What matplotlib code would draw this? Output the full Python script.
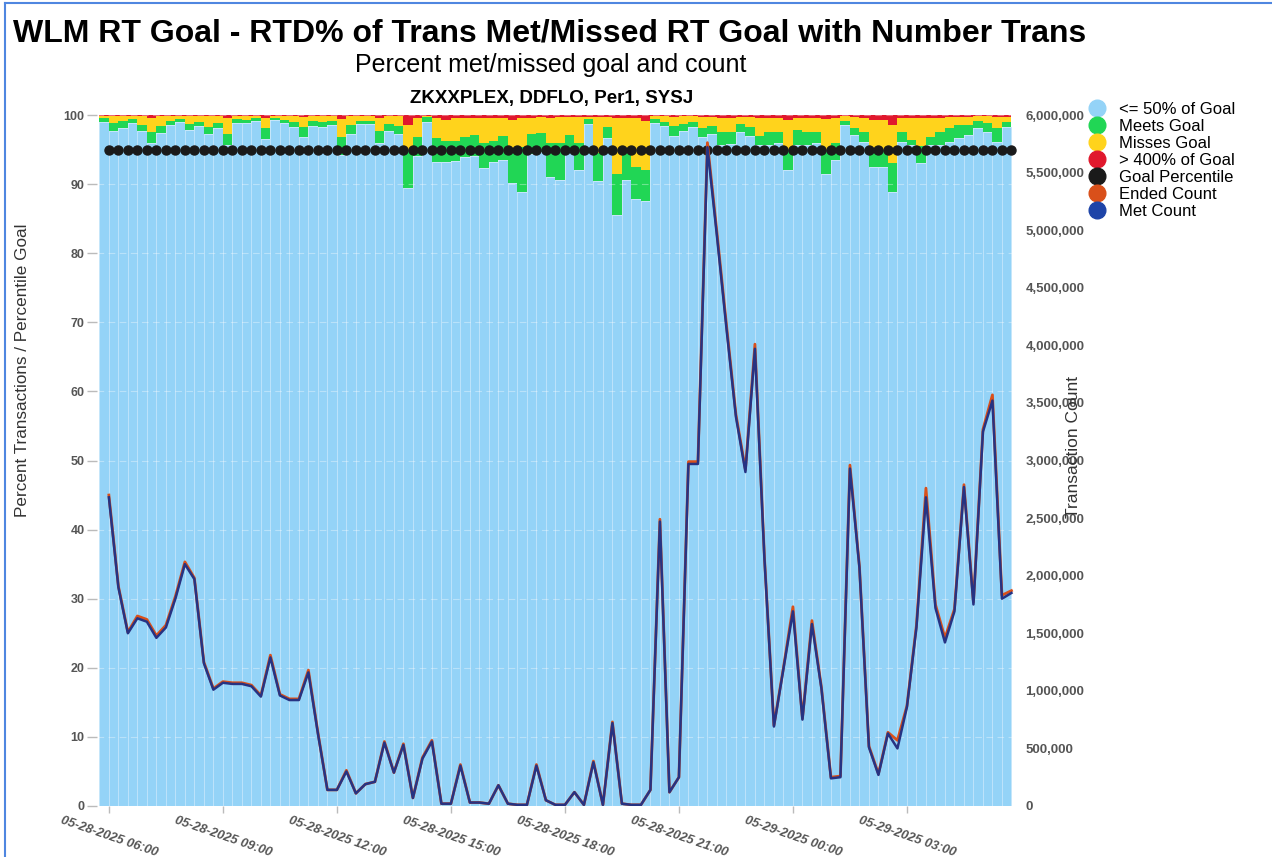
import numpy as np
import matplotlib.pyplot as plt
from matplotlib.lines import Line2D
from matplotlib.ticker import FuncFormatter

plt.rcParams['font.family'] = ['Liberation Sans', 'DejaVu Sans']

# 96 intervals of 15 min, 05-28-2025 06:00 .. 05-29-2025 05:45
tick_pos = [0, 12, 24, 36, 48, 60, 72, 84]
tick_labels = ['05-28-2025 06:00', '05-28-2025 09:00', '05-28-2025 12:00',
               '05-28-2025 15:00', '05-28-2025 18:00', '05-28-2025 21:00',
               '05-29-2025 00:00', '05-29-2025 03:00']

# cumulative tops of the stacked percent bars
low_top = [99.0, 97.7, 98.1, 98.8, 97.7, 96.0, 97.4, 98.6, 99.0, 97.9,
           98.4, 97.3, 98.1, 95.6, 98.9, 98.8, 99.2, 96.5, 99.3, 98.9,
           98.3, 96.8, 98.4, 98.3, 98.6, 94.2, 97.3, 98.7, 98.7, 96.0,
           97.7, 97.3, 89.5, 94.1, 99.0, 93.2, 93.2, 93.4, 93.9, 94.1,
           92.4, 93.2, 93.5, 90.2, 88.8, 94.4, 94.6, 91.0, 90.6, 94.9,
           92.0, 98.7, 90.4, 96.6, 85.6, 90.6, 87.8, 87.6, 98.9, 98.4,
           97.0, 97.7, 98.2, 96.8, 97.2, 95.6, 95.8, 97.6, 97.0, 95.7,
           95.7, 96.0, 92.0, 95.7, 95.7, 96.0, 91.5, 93.5, 98.6, 97.1,
           96.1, 92.5, 92.5, 88.9, 96.1, 95.7, 93.0, 95.7, 95.7, 96.1,
           96.6, 97.1, 98.1, 97.6, 96.1, 98.3]
meets_top = [99.6, 98.8, 99.2, 99.4, 98.6, 97.6, 98.4, 99.2, 99.4, 98.7,
             99.0, 98.2, 98.9, 97.2, 99.4, 99.3, 99.5, 98.1, 99.5, 99.3,
             99.0, 98.2, 99.2, 99.0, 99.2, 96.8, 98.6, 99.2, 99.2, 97.7,
             98.7, 98.4, 95.0, 96.8, 99.7, 96.6, 96.3, 96.3, 96.8, 97.1,
             95.9, 96.3, 96.9, 94.9, 95.4, 97.2, 97.4, 95.9, 95.9, 97.1,
             95.9, 99.4, 94.5, 98.3, 91.5, 94.8, 92.5, 92.0, 99.4, 99.0,
             98.4, 98.7, 99.0, 98.1, 98.4, 97.6, 97.6, 98.7, 98.3, 96.9,
             97.6, 97.6, 95.0, 97.8, 97.6, 97.6, 95.0, 96.0, 99.1, 98.1,
             97.6, 95.0, 95.0, 93.0, 97.6, 96.4, 95.5, 96.8, 97.6, 98.1,
             98.6, 98.6, 99.2, 98.8, 98.1, 99.0]
misses_top = [99.8, 99.8, 99.8, 99.8, 99.8, 99.6, 99.8, 99.8, 99.8, 99.8,
              99.8, 99.8, 99.8, 99.5, 99.8, 99.8, 99.8, 99.6, 99.8, 99.8,
              99.8, 99.7, 99.8, 99.8, 99.8, 99.4, 99.8, 99.8, 99.8, 99.6,
              99.8, 99.8, 98.5, 99.6, 99.9, 99.5, 99.3, 99.5, 99.5, 99.6,
              99.6, 99.5, 99.6, 99.3, 99.6, 99.6, 99.7, 99.6, 99.7, 99.7,
              99.7, 99.7, 99.7, 99.7, 99.5, 99.5, 99.5, 99.2, 99.8, 99.8,
              99.7, 99.8, 99.8, 99.7, 99.7, 99.6, 99.6, 99.7, 99.7, 99.5,
              99.6, 99.6, 99.3, 99.6, 99.6, 99.6, 99.4, 99.6, 99.8, 99.7,
              99.5, 99.3, 99.3, 98.5, 99.6, 99.6, 99.6, 99.6, 99.6, 99.7,
              99.7, 99.7, 99.8, 99.8, 99.7, 99.7]
goal_pct = [95] * 96

# transaction counts, millions
met_count = [2.68, 1.90, 1.50, 1.63, 1.60, 1.46, 1.55, 1.80, 2.10, 1.97,
             1.24, 1.01, 1.07, 1.06, 1.06, 1.04, 0.95, 1.29, 0.96, 0.92,
             0.92, 1.16, 0.63, 0.14, 0.14, 0.30, 0.11, 0.19, 0.21, 0.55,
             0.29, 0.53, 0.07, 0.41, 0.56, 0.02, 0.02, 0.35, 0.03, 0.03,
             0.02, 0.18, 0.02, 0.01, 0.01, 0.35, 0.05, 0.01, 0.01, 0.12,
             0.01, 0.38, 0.01, 0.72, 0.02, 0.01, 0.01, 0.14, 2.47, 0.12,
             0.25, 2.97, 2.97, 5.72, 4.95, 4.15, 3.38, 2.90, 3.97, 2.15,
             0.69, 1.19, 1.69, 0.75, 1.58, 1.02, 0.24, 0.25, 2.93, 2.07,
             0.51, 0.27, 0.63, 0.50, 0.86, 1.55, 2.68, 1.72, 1.42, 1.69,
             2.77, 1.75, 3.25, 3.52, 1.80, 1.85]
ended_count = [2.70, 1.91, 1.51, 1.65, 1.62, 1.48, 1.57, 1.82, 2.12, 1.98,
               1.25, 1.02, 1.08, 1.07, 1.07, 1.05, 0.96, 1.31, 0.97, 0.93,
               0.93, 1.18, 0.64, 0.14, 0.14, 0.31, 0.11, 0.19, 0.21, 0.56,
               0.29, 0.54, 0.07, 0.42, 0.57, 0.02, 0.02, 0.36, 0.03, 0.03,
               0.02, 0.18, 0.02, 0.01, 0.01, 0.36, 0.05, 0.01, 0.01, 0.12,
               0.01, 0.39, 0.01, 0.73, 0.02, 0.01, 0.01, 0.14, 2.49, 0.12,
               0.25, 2.99, 2.99, 5.76, 4.98, 4.18, 3.40, 2.92, 4.01, 2.16,
               0.70, 1.20, 1.73, 0.76, 1.61, 1.03, 0.25, 0.26, 2.96, 2.08,
               0.52, 0.28, 0.64, 0.57, 0.87, 1.57, 2.76, 1.75, 1.46, 1.71,
               2.79, 1.77, 3.27, 3.57, 1.83, 1.87]

C_LOW = '#94D3F7'
C_MEETS = '#21D655'
C_MISS = '#FFD31C'
C_OVER = '#E0182D'
C_GOAL = '#1A1A1A'
C_ENDED = '#D9501A'
C_MET = '#1E44A8'
GREY = '#555555'

fig = plt.figure(figsize=(12.72, 8.57), dpi=100)
ax = fig.add_axes([97 / 1272, 1 - 806 / 857, (1020 - 97) / 1272, (806 - 115) / 857])

x = np.arange(len(met_count))
low = np.array(low_top)
meets = np.array(meets_top) - low
miss = np.array(misses_top) - np.array(meets_top)
over = 100 - np.array(misses_top)

bw = -1.0  # bars end at their timestamp
sep = dict(edgecolor='#C4E6FB', linewidth=0.5)
ax.bar(x, low, width=bw, align='edge', color=C_LOW, zorder=1, **sep)
ax.bar(x, meets, width=bw, align='edge', bottom=low, color=C_MEETS, zorder=1, linewidth=0)
ax.bar(x, miss, width=bw, align='edge', bottom=np.array(meets_top), color=C_MISS, zorder=1,
       linewidth=0)
ax.bar(x, over, width=bw, align='edge', bottom=np.array(misses_top), color=C_OVER, zorder=1,
       linewidth=0)
ax.plot(x, goal_pct, 'o', color=C_GOAL, markersize=6.5, zorder=3)

ax.set_ylim(0, 100)
ax.set_xlim(-1.25, 95.9)
ax.set_yticks(range(0, 101, 10))
ax.grid(axis='y', color='white', alpha=0.35, linestyle=(0, (6, 4)), linewidth=0.8)
ax.set_axisbelow(False)
for s in ax.spines.values():
    s.set_visible(False)
ax.set_xticks(tick_pos)
ax.set_xticklabels(tick_labels, rotation=-19, ha='center', fontsize=9.3,
                   fontweight='bold', fontstyle='italic', color=GREY)
ax.tick_params(axis='x', colors='#bbbbbb', labelcolor=GREY, length=5, width=1, pad=1)
ax.tick_params(axis='y', colors='#bbbbbb', labelcolor=GREY, length=7, width=1, pad=2,
               labelsize=9)
for t in ax.get_yticklabels():
    t.set_fontweight('bold')
ax.set_ylabel('Percent Transactions / Percentile Goal', fontsize=12.3, color='#333333')
ax.yaxis.set_label_coords(-0.073, 0.63)

ax2 = ax.twinx()
ax2.plot(x, ended_count, color=C_ENDED, linewidth=2, zorder=2)
ax2.plot(x, met_count, color='#263383', linewidth=1.8, zorder=3)
ax2.set_ylim(0, 6)
ax2.set_yticks(np.arange(0, 6.01, 0.5))
ax2.yaxis.set_major_formatter(FuncFormatter(lambda v, p: f'{v * 1e6:,.0f}'))
ax2.tick_params(axis='y', length=0, labelsize=9.5, labelcolor=GREY, pad=4)
for t in ax2.get_yticklabels():
    t.set_fontweight('bold')
for s in ax2.spines.values():
    s.set_visible(False)
ax2.set_ylabel('Transaction Count', fontsize=12.5, color='#333333')
ax2.yaxis.set_label_coords(1.050, 0.52)

# titles
fig.text(0.432, 1 - 33 / 857, 'WLM RT Goal - RTD% of Trans Met/Missed RT Goal with Number Trans',
         ha='center', va='center', fontsize=23, fontweight='bold', color='black')
fig.text(0.433, 1 - 65 / 857, 'Percent met/missed goal and count',
         ha='center', va='center', fontsize=18, color='black')
fig.text(0.434, 1 - 98 / 857, 'ZKXXPLEX, DDFLO, Per1, SYSJ',
         ha='center', va='center', fontsize=13.5, fontweight='bold', color='black')

handles = [Line2D([], [], marker='o', linestyle='', markersize=12, color=c)
           for c in [C_LOW, C_MEETS, C_MISS, C_OVER, C_GOAL, C_ENDED, C_MET]]
names = ['<= 50% of Goal', 'Meets Goal', 'Misses Goal', '> 400% of Goal',
         'Goal Percentile', 'Ended Count', 'Met Count']
fig.legend(handles, names, loc='upper left', bbox_to_anchor=(1087 / 1272, 1 - 102 / 857),
           frameon=False, fontsize=12, handletextpad=0.7, labelspacing=0.12,
           handlelength=1.2, borderaxespad=0, borderpad=0)

# thin blue frame of the original screenshot
fig.add_artist(Line2D([5 / 1272, 5 / 1272], [0, 1 - 3 / 857], color='#4F86E0', linewidth=1.5))
fig.add_artist(Line2D([5 / 1272, 1], [1 - 3 / 857, 1 - 3 / 857], color='#4F86E0', linewidth=1.5))

fig.savefig('out.png', dpi=100)
